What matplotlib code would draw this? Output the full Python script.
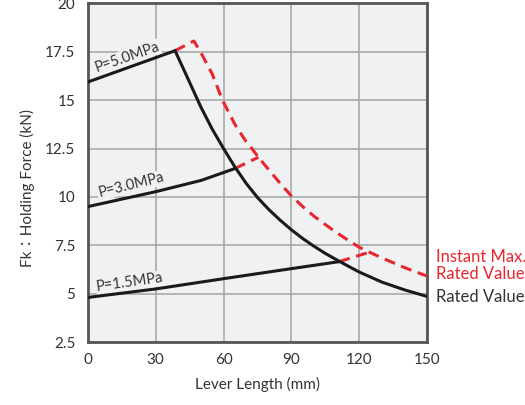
import matplotlib
matplotlib.use("Agg")
import matplotlib.pyplot as plt

# ---- data ----
# pressure lines (solid black)
p50_x = [0, 38.6]
p50_y = [15.93, 17.55]
p30_x = [0, 30, 50, 65.1]
p30_y = [9.5, 10.27, 10.85, 11.47]
p15_x = [0, 30, 60, 90, 111.1]
p15_y = [4.81, 5.25, 5.78, 6.3, 6.66]

# rated value curve (solid black)
rated_x = [38.6, 40, 43, 45, 48, 50, 55, 60, 65, 70, 75, 80, 85, 90, 95, 100,
           105, 110, 115, 120, 130, 140, 150]
rated_y = [17.55, 17.19, 16.43, 15.92, 15.15, 14.64, 13.5, 12.5, 11.55, 10.7, 9.97, 9.35, 8.8, 8.3, 7.85, 7.45,
           7.08, 6.75, 6.43, 6.12, 5.6, 5.2, 4.86]

# instant max rated value (red dashed), including the extension from P=5.0
inst_x = [38.6, 46.9, 50, 55, 59.5, 65, 70, 72.5, 75.4, 80, 85, 90, 95, 100, 105,
          110, 115, 120, 124.4, 130, 140, 150]
inst_y = [17.55, 18.05, 17.45, 16.35, 15.0, 13.75, 12.85, 12.5, 12.05, 11.4, 10.7, 10.05, 9.5, 9.0, 8.57,
          8.15, 7.77, 7.4, 7.15, 6.85, 6.35, 5.91]
# red dashed extensions of the P=3.0 and P=1.5 lines
ext30_x = [65.1, 75.4]
ext30_y = [11.47, 12.05]
ext15_x = [111.1, 124.4]
ext15_y = [6.66, 7.15]

x_ticks = [0, 30, 60, 90, 120, 150]
y_ticks = [2.5, 5, 7.5, 10, 12.5, 15, 17.5, 20]
y_tick_labels = ["2.5", "5", "7.5", "10", "12.5", "15", "17.5", "20"]

labels = ["P=5.0MPa", "P=3.0MPa", "P=1.5MPa"]

plt.rcParams['font.family'] = ['Lato', 'Noto Sans CJK JP', 'DejaVu Sans']

RED = "#e8262d"
BLACK = "#1a1a1a"
TXT = "#333333"
BG = "#f0f1f3"

fig = plt.figure(figsize=(5.25, 4.05), dpi=100)
ax = fig.add_axes([0.167, 0.155, 0.647, 0.837])
ax.set_facecolor(BG)

ax.set_xlim(0, 150)
ax.set_ylim(2.5, 20)
ax.set_xticks(x_ticks)
ax.set_yticks(y_ticks)
ax.set_yticklabels(y_tick_labels)
ax.tick_params(length=0, labelsize=11, colors=TXT, pad=9)
ax.tick_params(axis='x', pad=8)
ax.grid(True, color="#a3a3a3", lw=1.1)
ax.set_axisbelow(True)
for s in ax.spines.values():
    s.set_color("#555555")
    s.set_linewidth(2.0)

lw = 2.2
ax.plot(p50_x, p50_y, color=BLACK, lw=lw, solid_capstyle='butt', zorder=4)
ax.plot(p30_x, p30_y, color=BLACK, lw=lw, solid_capstyle='butt', zorder=4)
ax.plot(p15_x, p15_y, color=BLACK, lw=lw, solid_capstyle='butt', zorder=4)
ax.plot(rated_x, rated_y, color=BLACK, lw=lw, zorder=4)

dash = (0, (3.6, 2.2))
ax.plot(inst_x, inst_y, color=RED, lw=lw, linestyle=dash, zorder=3)
ax.plot(ext30_x, ext30_y, color=RED, lw=lw, linestyle=dash, zorder=3)
ax.plot(ext15_x, ext15_y, color=RED, lw=lw, linestyle=dash, zorder=3)

bb = dict(facecolor=BG, edgecolor='none', pad=0.5)
ax.text(17.4, 17.23, labels[0], rotation=19, ha='center', va='center',
        fontsize=10.5, color=TXT, bbox=bb, zorder=3)
ax.text(19.1, 10.6, labels[1], rotation=14, ha='center', va='center',
        fontsize=10.5, color=TXT, bbox=bb, zorder=3)
ax.text(18.7, 5.58, labels[2], rotation=8, ha='center', va='center',
        fontsize=10.5, color=TXT, bbox=bb, zorder=3)

ax.text(153.8, 6.92, "Instant Max.", color=RED, fontsize=12, ha='left', va='center', clip_on=False)
ax.text(153.8, 6.0, "Rated Value", color=RED, fontsize=12, ha='left', va='center', clip_on=False)
ax.text(153.8, 4.86, "Rated Value", color=TXT, fontsize=12, ha='left', va='center', clip_on=False)

ax.set_xlabel("Lever Length (mm)", fontsize=11, color=TXT, labelpad=7)
fig.text(0.052, 1 - 188 / 405, "Fk：Holding Force (kN)", rotation=90, ha='center', va='center',
         fontsize=11, color=TXT)

fig.savefig("out.png", dpi=100)
